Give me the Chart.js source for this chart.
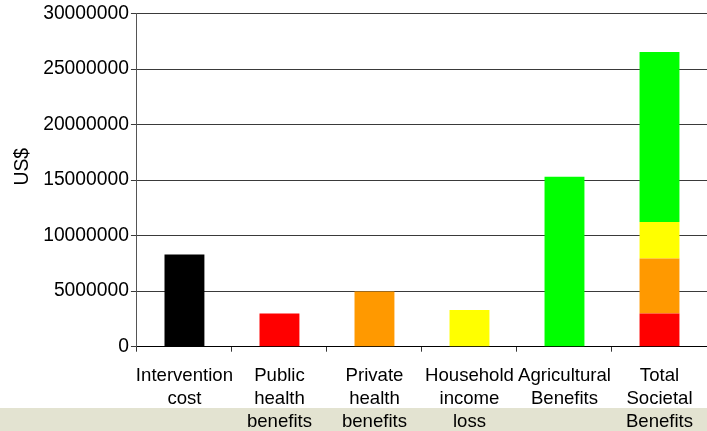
<!DOCTYPE html>
<html>
<head>
<meta charset="utf-8">
<script src="https://cdn.jsdelivr.net/npm/chart.js@4"></script>
<style>
  html, body { margin: 0; padding: 0; background: #ffffff; }
  #wrap { position: relative; width: 707px; height: 431px; overflow: hidden; }
  #band { position: absolute; left: 0; top: 408px; width: 707px; height: 23px; background: #e3e3d1; }
  #myChart { position: absolute; left: 0; top: 0; }
</style>
</head>
<body>
<div id="wrap">
  <div id="band"></div>
  <canvas id="myChart" width="707" height="431"></canvas>
</div>
<script>
const categories = [
  ['Intervention', 'cost'],
  ['Public', 'health', 'benefits'],
  ['Private', 'health', 'benefits'],
  ['Household', 'income', 'loss'],
  ['Agricultural', 'Benefits'],
  ['Total', 'Societal', 'Benefits']
];

// each component; the last category stacks all benefits
const interventionCost = [8300000, null, null, null, null, null];
const publicHealth = [null, 2980000, null, null, null, 2980000];
const privateHealth = [null, null, 4960000, null, null, 4960000];
const householdIncome = [null, null, null, 3300000, null, 3300000];
const agricultural = [null, null, null, null, 15300000, 15300000];

const yTicks = [0, 5000000, 10000000, 15000000, 20000000, 25000000, 30000000];

const yFont = { family: 'Liberation Sans, Arial, sans-serif', size: 19.3 };
const xFont = { family: 'Liberation Sans, Arial, sans-serif', size: 18.6, lineHeight: 1.26 };

const makeSet = (label, data, color) => ({
  label: label,
  data: data,
  backgroundColor: color,
  borderWidth: 0,
  stack: 's'
});

const ctx = document.getElementById('myChart');
new Chart(ctx, {
  type: 'bar',
  data: {
    labels: categories,
    datasets: [
      makeSet('Intervention cost', interventionCost, '#000000'),
      makeSet('Public health benefits', publicHealth, '#ff0000'),
      makeSet('Private health benefits', privateHealth, '#ff9900'),
      makeSet('Household income loss', householdIncome, '#ffff00'),
      makeSet('Agricultural Benefits', agricultural, '#00ff00')
    ]
  },
  options: {
    responsive: false,
    animation: false,
    barPercentage: 0.42,
    categoryPercentage: 1,
    layout: { padding: { top: 8, right: 0, bottom: -15, left: 11 } },
    plugins: {
      legend: { display: false },
      tooltip: { enabled: false }
    },
    scales: {
      x: {
        stacked: true,
        grid: {
          display: true,
          drawOnChartArea: false,
          offset: true,
          color: '#333333',
          tickLength: 5
        },
        border: { color: '#000000', width: 1 },
        ticks: {
          color: '#000000',
          font: xFont,
          padding: 12,
          autoSkip: false,
          maxRotation: 0,
          minRotation: 0
        }
      },
      y: {
        stacked: true,
        min: 0,
        max: 30000000,
        afterBuildTicks: (axis) => {
          axis.ticks = yTicks.map(v => ({ value: v }));
        },
        grid: {
          color: '#3a3a3a',
          tickLength: 6
        },
        border: { color: '#555555', width: 1 },
        ticks: {
          color: '#000000',
          font: yFont,
          padding: 2,
          callback: (v) => String(v)
        },
        title: {
          display: true,
          text: '     US$',
          color: '#000000',
          font: yFont,
          padding: { top: 0, bottom: 7 }
        }
      }
    }
  }
});
</script>
</body>
</html>
